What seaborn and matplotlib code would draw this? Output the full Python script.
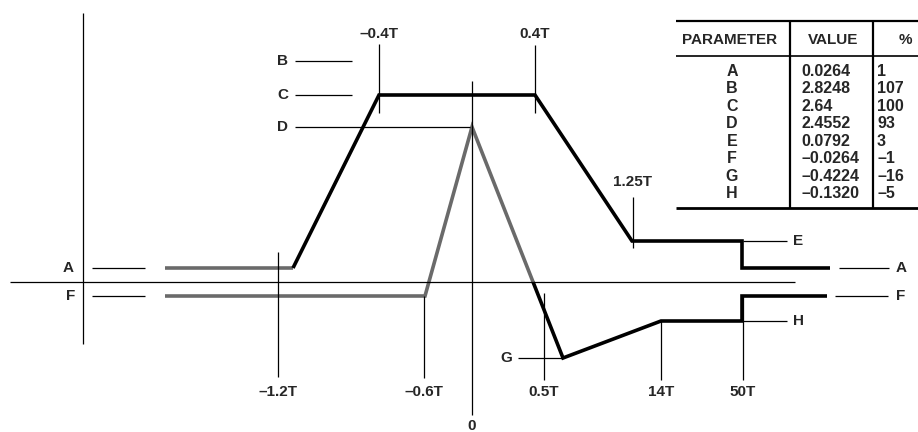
import numpy as np
import pandas as pd
import seaborn as sns
import matplotlib.pyplot as plt

# parameter table
params = ["A", "B", "C", "D", "E", "F", "G", "H"]
values = [0.0264, 2.8248, 2.64, 2.4552, 0.0792, -0.0264, -0.4224, -0.1320]
value_text = ["0.0264", "2.8248", "2.64", "2.4552", "0.0792", "–0.0264", "–0.4224", "–0.1320"]
percent = ["1", "107", "100", "93", "3", "–1", "–16", "–5"]
level = dict(zip(params, values))

# pulse mask corners (x is schematic, the drawing is not to scale)
upper_x = [165, 293, 379, 535, 632, 742, 742, 830]
upper_lv = ["A", "A", "C", "C", "E", "E", "A", "A"]
lower_x = [165, 425, 472, 563, 661, 742, 742, 827]
lower_lv = ["F", "F", "D", "G", "H", "H", "F", "F"]

# time marks
time_labels = ["–1.2T", "–0.6T", "–0.4T", "0", "0.4T", "0.5T", "1.25T", "14T", "50T"]
time_x = [278, 424, 379, 472, 535, 544, 633, 661, 743]

sns.set_theme(style="white")
plt.rcParams["font.family"] = ["Liberation Sans", "DejaVu Sans"]

# levels are drawn at these heights (px above the zero line), not to scale
draw_h = {"G": -76, "H": -39, "F": -14, "A": 14, "E": 41, "D": 155, "C": 187, "B": 221}
order = sorted(params, key=level.get)
kv = [-1.0] + [level[p] for p in order[:3]] + [0.0] + [level[p] for p in order[3:]] + [3.5]
kh = [-150] + [draw_h[p] for p in order[:3]] + [0] + [draw_h[p] for p in order[3:]] + [282]


def fwd(v):
    return np.interp(v, kv, kh)


def inv(h):
    return np.interp(h, kh, kv)


def row(py):
    # pixel row of the picture -> value on the schematic scale
    return float(inv(282 - py))


fig = plt.figure(figsize=(9.18, 4.32), dpi=100)
ax = fig.add_axes([0, 0, 1, 1])
ax.set_yscale("function", functions=(fwd, inv))

# mask lines, split where the tone changes
x_cross = float(np.interp(0.0, [fwd(level["G"]), fwd(level["D"])], [lower_x[3], lower_x[2]]))
pieces = [
    pd.DataFrame({"x": upper_x[:2], "v": [level[l] for l in upper_lv[:2]], "piece": "u0", "tone": "gray"}),
    pd.DataFrame({"x": upper_x[1:], "v": [level[l] for l in upper_lv[1:]], "piece": "u1", "tone": "black"}),
    pd.DataFrame({"x": lower_x[:3] + [x_cross], "v": [level[l] for l in lower_lv[:3]] + [0.0],
                  "piece": "l0", "tone": "gray"}),
    pd.DataFrame({"x": [x_cross] + lower_x[3:], "v": [0.0] + [level[l] for l in lower_lv[3:]],
                  "piece": "l1", "tone": "black"}),
]
masks = pd.concat(pieces, ignore_index=True)
sns.lineplot(data=masks, x="x", y="v", units="piece", hue="tone", estimator=None, sort=False,
             palette={"black": "#000000", "gray": "#6a6a6a"}, lw=2.6, legend=False, ax=ax,
             solid_joinstyle="miter", solid_capstyle="butt")

thin = dict(color="black", lw=0.9)

# axes of the diagram
ax.vlines(83, row(344), row(13), **thin)
ax.hlines(0.0, 10, 795, **thin)

# level markers: name, line start, line end, label x, label alignment
markers = [("B", 295, 352, 288, "right"), ("C", 295, 352, 288, "right"), ("D", 295, 470, 288, "right"),
           ("A", 92, 145, 74, "right"), ("F", 92, 145, 75, "right"),
           ("A", 839, 889, 896, "left"), ("F", 835, 888, 896, "left"),
           ("E", 743, 787, 793, "left"), ("H", 743, 787, 793, "left"), ("G", 518, 563, 512, "right")]
for name, x0, x1, lx, ha in markers:
    ax.hlines(level[name], x0, x1, **thin)
    ax.text(lx, level[name], name, ha=ha, va="center", fontsize=11, fontweight="bold")

# time ticks: top row, bottom row, label row (pixels)
tick_rows = [(252, 377, 392), (296, 378, 392), (44, 113, 34), (81, 415, 426), (45, 113, 34),
             (293, 380, 392), (197, 248, 182), (321, 380, 392), (296, 380, 392)]
for lab, x, (t, b, ly) in zip(time_labels, time_x, tick_rows):
    ax.vlines(x, row(b), row(t), **thin)
    ax.text(x, row(ly), lab, ha="center", va="center", fontsize=11, fontweight="bold")

# parameter table
ax.hlines(row(21), 676, 918, color="black", lw=1.6)
ax.hlines(row(56), 676, 918, color="black", lw=1.2)
ax.hlines(row(208), 676, 918, color="black", lw=2.0)
ax.vlines([790, 873], row(208), row(21), color="black", lw=1.6)
for lab, x in zip(["PARAMETER", "VALUE", "%"], [730, 833, 905]):
    ax.text(x, row(40), lab, ha="center", va="center", fontsize=11, fontweight="bold")
for p, vt, pc, py in zip(params, value_text, percent, np.linspace(71, 194, 8)):
    ax.text(732, row(py), p, ha="center", va="center", fontsize=11.5, fontweight="bold")
    ax.text(801, row(py), vt, ha="left", va="center", fontsize=11.5, fontweight="bold")
    ax.text(877, row(py), pc, ha="left", va="center", fontsize=11.5, fontweight="bold")

ax.set_xlim(0, 918)
ax.set_ylim(kv[0], kv[-1])
ax.axis("off")
fig.savefig("out.png", dpi=100, facecolor="white")
